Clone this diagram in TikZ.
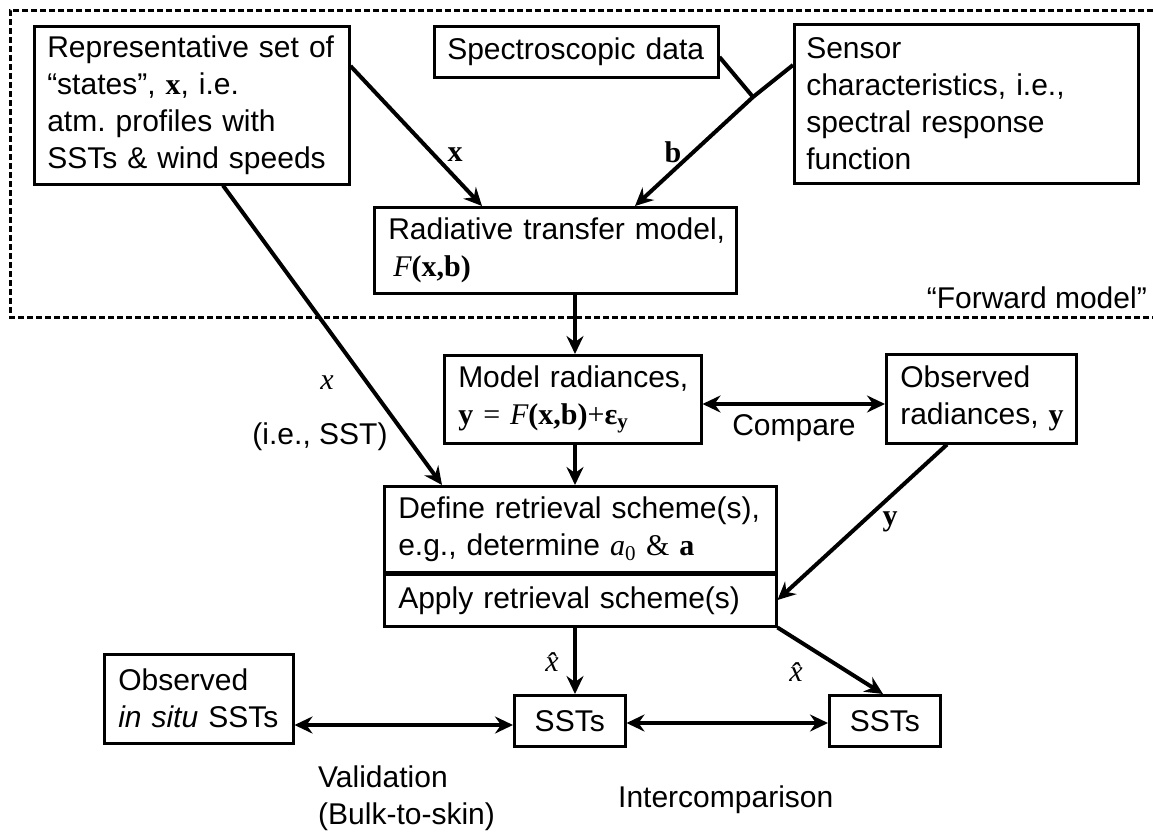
\RequirePackage{fix-cm}
\documentclass[tikz,border=0pt]{standalone}
\usepackage{fontspec}
\setmainfont{Liberation Sans}
\newfontfamily\tms{Liberation Serif}
\usetikzlibrary{arrows.meta,calc}
\begin{document}
\begin{tikzpicture}[x=1pt,y=-1pt,
  font=\fontsize{30}{37}\selectfont,
  box/.style={draw, line width=2.5pt, inner ysep=0pt, anchor=north west, align=left},
  conn/.style={line width=4pt, line join=round},
  arr/.style={conn, -{Stealth[length=18pt,width=17pt,inset=6pt]}},
  darr/.style={conn, {Stealth[length=18pt,width=17pt,inset=6pt]}-{Stealth[length=18pt,width=17pt,inset=6pt]}},
  lab/.style={inner sep=0pt},
  frame/.style={line width=3pt, dash pattern=on 6pt off 3pt}]
\useasboundingbox (0,0) rectangle (1153,833);
% dashed frame of the forward model
\draw[frame] (1153,10) -- (10,10) -- (10,317) -- (1153,317);
\node[lab, anchor=base east] (fm) at (1147,308) {“Forward model”};
% boxes
\node[box, minimum width=315pt, minimum height=158pt, inner xsep=13pt, text width=289pt] (rep) at (33,25)
  {\mbox{Representative set of}\\ \mbox{“states”, {\tms\bfseries x}, i.e.}\\ \mbox{atm.\ profiles with}\\ \mbox{SSTs \& wind speeds}};
\node[box, minimum width=284pt, minimum height=51pt, inner xsep=13pt, text width=258pt] (spec) at (433,25)
  {\mbox{Spectroscopic data}};
\node[box, minimum width=344pt, minimum height=159pt, inner xsep=12pt, text width=320pt] (sens) at (793,23)
  {\mbox{Sensor}\\ \mbox{characteristics, i.e.,}\\ \mbox{spectral response}\\ \mbox{function}};
\node[box, minimum width=362pt, minimum height=86pt, inner xsep=14pt, text width=334pt] (rt) at (373,206)
  {\mbox{Radiative transfer model,}\\ \mbox{\,{\tms\itshape F}{\tms\bfseries (x,b)}}};
\node[box, minimum width=257pt, minimum height=88pt, inner xsep=14pt, text width=229pt] (model) at (443,354)
  {\mbox{Model radiances,}\\ \mbox{{\tms\bfseries y} {\tms =} {\tms\itshape F}{\tms\bfseries (x,b)}{\tms +}{\tms\bfseries ε\textsubscript{y}}}};
\node[box, minimum width=190pt, minimum height=89pt, inner xsep=14pt, text width=162pt] (obs) at (885,353)
  {\mbox{Observed}\\ \mbox{radiances, {\tms\bfseries y}}};
\node[box, minimum width=392pt, minimum height=86pt, inner xsep=14pt, text width=364pt] (def) at (383,485)
  {\mbox{Define retrieval scheme(s),}\\ \mbox{e.g., determine {\tms\itshape a}{\tms\textsubscript{0}} {\tms\& \bfseries a}}};
\node[box, minimum width=392pt, minimum height=52pt, inner xsep=14pt, text width=364pt] (apply) at (383,573)
  {\mbox{Apply retrieval scheme(s)}};
\node[box, minimum width=189pt, minimum height=89pt, inner xsep=14pt, text width=161pt] (insitu) at (103,653)
  {\mbox{Observed}\\ \mbox{\textit{in situ} SSTs}};
\node[box, minimum width=111pt, minimum height=51pt, inner xsep=0pt, align=center] (sst1) at (513,694) {SSTs};
\node[box, minimum width=111pt, minimum height=51pt, inner xsep=0pt, align=center] (sst2) at (828,694) {SSTs};
% junction of the spectroscopic data and sensor lines
\coordinate (J) at (753,97);
% connectors
\draw[arr] ($(rep.north east)+(0,41)$) -- ($(rt.north west)+(109,0)$);
\draw[conn] ($(spec.north east)+(0,32)$) -- (J);
\draw[arr] ($(sens.north west)+(0,42)$) -- (J) -- ($(rt.north west)+(262,0)$);
\draw[arr] ($(rt.south west)+(202,0)$) -- ($(model.north west)+(132,0)$);
\draw[darr] ($(model.north east)+(0,50)$) -- ($(obs.north west)+(0,51)$);
\draw[arr] ($(rep.south west)+(190,0)$) -- ($(def.north west)+(59,0)$);
\draw[arr] ($(model.south west)+(132,0)$) -- ($(def.north west)+(192,0)$);
\draw[arr] ($(obs.south west)+(62,0)$) -- ($(apply.north east)+(0,27)$);
\draw[arr] ($(apply.south west)+(192,0)$) -- ($(sst1.north west)+(62,0)$);
\draw[arr] (apply.south east) -- ($(sst2.north west)+(55,0)$);
\draw[darr] ($(insitu.north east)+(0,72)$) -- ($(sst1.north west)+(0,31)$);
\draw[darr] ($(sst1.north east)+(0,29)$) -- ($(sst2.north west)+(0,29)$);
% labels
\node[lab] (lx) at (455,155) {\tms\bfseries x};
\node[lab] (lb) at (673,152) {\tms\bfseries b};
\node[lab] (lx2) at (327,383) {\tms\itshape x};
\node[lab] (lsst) at (320,437) {(i.e., SST)};
\node[lab] (lcmp) at (794,428) {Compare};
\node[lab] (ly) at (890,522) {\tms\bfseries y};
\node[lab] (lh1) at (552,662) {\tms\itshape x̂};
\node[lab] (lh2) at (796,672) {\tms\itshape x̂};
\node[lab, anchor=west, align=left] (lval) at (318,798) {Validation\\(Bulk-to-skin)};
\node[lab, anchor=west] (lint) at (618,800) {Intercomparison};
\end{tikzpicture}
\end{document}
